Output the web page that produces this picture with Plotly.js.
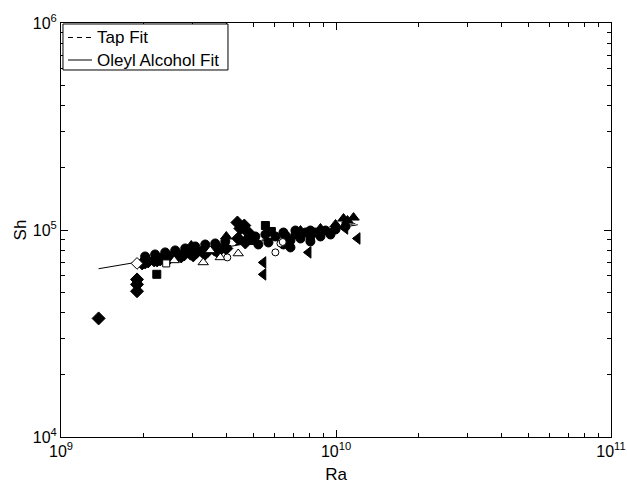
<!DOCTYPE html>
<html>
<head>
<meta charset="utf-8">
<script src="https://cdn.plot.ly/plotly-3.0.1.min.js"></script>
<style>html,body{margin:0;padding:0;background:#fff;}#chart{width:627px;height:489px;}</style>
</head>
<body>
<div id="chart"></div>
<script>
// Axis ticks
const majorTicks = [1e9, 1e10, 1e11];
const xTickText = ['10<sup>9</sup>', '10<sup>10</sup>', '10<sup>11</sup>'];
const yMajorTicks = [1e4, 1e5, 1e6];
const yTickText = ['10<sup>4</sup>', '10<sup>5</sup>', '10<sup>6</sup>'];
const xMinorTicks = [2e9, 3e9, 4e9, 5e9, 6e9, 7e9, 8e9, 9e9, 2e10, 3e10, 4e10, 5e10, 6e10, 7e10, 8e10, 9e10];
const yMinorTicks = [2e4, 3e4, 4e4, 5e4, 6e4, 7e4, 8e4, 9e4, 2e5, 3e5, 4e5, 5e5, 6e5, 7e5, 8e5, 9e5];

// Legend entries
const legendNames = ['Tap Fit', 'Oleyl Alcohol Fit'];

// Fit lines
const tapFitRa = [1.9e9, 1.2e10];
const tapFitSh = [70000, 108000];
const oleylFitRa = [1.37e9, 1.2e10];
const oleylFitSh = [65000, 106000];

// Filled diamonds
const diamondRa = [1.37e9, 1.89e9, 1.89e9, 1.89e9, 1.973e9, 2.075e9, 2.182e9, 2.295e9, 2.413e9, 2.537e9, 2.668e9, 2.806e9, 2.951e9, 3.103e9, 3.263e9, 3.431e9, 3.609e9, 3.795e9, 3.991e9, 4.38e9, 4.49e9, 4.64e9, 4.80e9, 4.41e9, 4.68e9, 4.88e9, 2.023e9, 2.237e9, 2.474e9, 2.736e9, 3.026e9, 3.346e9, 3.70e9];
const diamondSh = [37400, 57700, 54600, 50600, 68950, 70500, 71270, 72040, 73690, 74460, 76180, 76180, 77070, 77880, 78760, 79650, 80540, 80540, 81420, 108700, 101700, 105100, 97260, 91000, 87040, 93050, 69700, 71300, 72900, 74500, 75400, 77000, 78780];

// Filled circles
const circleRa = [2.023e9, 2.199e9, 2.393e9, 2.602e9, 2.829e9, 3.077e9, 3.346e9, 3.638e9, 3.957e9, 5.091e9, 5.537e9, 6.022e9, 6.549e9, 7.12e9, 7.75e9, 8.42e9, 9.16e9, 9.96e9, 1.083e10, 6.83e9, 7.43e9, 5.22e9, 5.68e9, 8.78e9, 9.55e9, 6.83e9, 6.44e9, 7.12e9, 8.07e9, 6.44e9, 8.07e9];
const circleSh = [74500, 76200, 77950, 79700, 81450, 83290, 85130, 86100, 88030, 93050, 95130, 93050, 94100, 95130, 97260, 97260, 99450, 100560, 103960, 89000, 91000, 85130, 87040, 93050, 95130, 82370, 97260, 99450, 99450, 85130, 88030];

// Filled squares
const squareRa = [2.23e9, 5.537e9, 5.82e9, 4.882e9, 8.07e9];
const squareSh = [61100, 105100, 98360, 89000, 93050];

// Open triangles
const openTriRa = [2.58e9, 3.29e9, 3.795e9, 4.41e9, 3.489e9];
const openTriSh = [71300, 69700, 73700, 77000, 79700];

// Open squares
const openSquareRa = [2.413e9];
const openSquareSh = [68960];

// Open diamonds
const openDiamondRa = [1.89e9];
const openDiamondSh = [68960];

// Open circles
const openCircleRa = [6.28e9, 6.02e9, 4.025e9, 6.4e9];
const openCircleSh = [86100, 77950, 73700, 87500];

// Filled left triangles
const leftTriRa = [7.94e9, 5.44e9, 5.44e9, 1.197e10, 9.55e9, 1.08e10];
const leftTriSh = [77950, 69700, 61040, 91000, 97260, 101700];

// Filled up triangles
const upTriRa = [2.976e9, 3.991e9, 1.065e10, 1.158e10, 1.101e10, 9.96e9, 8.78e9, 7.43e9];
const upTriSh = [84200, 93050, 113600, 114850, 111100, 106300, 101700, 99450];

const DASH = '5px,4px';

function pts(x, y, symbol, size, filled) {
  return {
    type: 'scatter', mode: 'markers', x: x, y: y, showlegend: false, hoverinfo: 'skip',
    marker: {symbol: symbol, size: size, color: filled ? 'black' : 'white',
             line: {color: 'black', width: 1}}
  };
}

const data = [
  {type: 'scatter', mode: 'lines', x: tapFitRa, y: tapFitSh, name: legendNames[0], showlegend: false,
   line: {color: 'black', width: 1, dash: DASH}},
  {type: 'scatter', mode: 'lines', x: oleylFitRa, y: oleylFitSh, name: legendNames[1], showlegend: false,
   line: {color: 'black', width: 1}},
  pts(diamondRa, diamondSh, 'diamond', 10, true),
  pts(circleRa, circleSh, 'circle', 9, true),
  pts(squareRa, squareSh, 'square', 8, true),
  pts(leftTriRa, leftTriSh, 'triangle-left', 10, true),
  pts(upTriRa, upTriSh, 'triangle-up', 10, true),
  pts(openTriRa, openTriSh, 'triangle-up', 9, false),
  pts(openSquareRa, openSquareSh, 'square', 7, false),
  pts(openDiamondRa, openDiamondSh, 'diamond', 9, false),
  pts(openCircleRa, openCircleSh, 'circle', 7, false)
];

const fontFam = 'Liberation Sans, Arial, sans-serif';

function axis(range, ticks, text, minor, title, standoff) {
  return {
    type: 'log', range: range, showgrid: false, zeroline: false,
    showline: true, linecolor: 'black', linewidth: 1, mirror: 'ticks',
    ticks: 'inside', ticklen: 7, tickwidth: 1, tickcolor: 'black',
    tickmode: 'array', tickvals: ticks, ticktext: text,
    minor: {tickmode: 'array', tickvals: minor, ticks: 'inside', ticklen: 4,
            tickwidth: 1, tickcolor: 'black', showgrid: false},
    tickfont: {family: fontFam, size: 16, color: 'black'},
    title: {text: title, font: {family: fontFam, size: 17, color: 'black'}, standoff: standoff}
  };
}

// Manual legend (paper coordinates of the plot area)
const legendShapes = [
  {type: 'rect', xref: 'paper', yref: 'paper', x0: 0.0036, x1: 0.3036, y0: 0.8865, y1: 0.9976,
   line: {color: 'black', width: 1}, fillcolor: 'white', layer: 'above'},
  {type: 'line', xref: 'paper', yref: 'paper', x0: 0.0127, x1: 0.0564, y0: 0.965, y1: 0.965,
   line: {color: 'black', width: 1, dash: DASH}, layer: 'above'},
  {type: 'line', xref: 'paper', yref: 'paper', x0: 0.0127, x1: 0.0564, y0: 0.9106, y1: 0.9106,
   line: {color: 'black', width: 1}, layer: 'above'}
];
const legendAnnotations = [
  {xref: 'paper', yref: 'paper', x: 0.0618, y: 0.965, xanchor: 'left', yanchor: 'middle',
   text: legendNames[0], showarrow: false, font: {family: fontFam, size: 17, color: 'black'}},
  {xref: 'paper', yref: 'paper', x: 0.0618, y: 0.9106, xanchor: 'left', yanchor: 'middle',
   text: legendNames[1], showarrow: false, font: {family: fontFam, size: 17, color: 'black'}}
];

const layout = {
  width: 627, height: 489,
  margin: {l: 61, r: 16, t: 23, b: 52},
  paper_bgcolor: 'white', plot_bgcolor: 'white',
  font: {family: fontFam, color: 'black'},
  xaxis: axis([8.99999, 11.00001], majorTicks, xTickText, xMinorTicks, 'Ra', 8),
  yaxis: axis([3.99999, 6.00001], yMajorTicks, yTickText, yMinorTicks, 'Sh', 1),
  shapes: legendShapes,
  annotations: legendAnnotations,
  showlegend: false
};

Plotly.newPlot('chart', data, layout, {displayModeBar: false, staticPlot: true});
</script>
</body>
</html>
